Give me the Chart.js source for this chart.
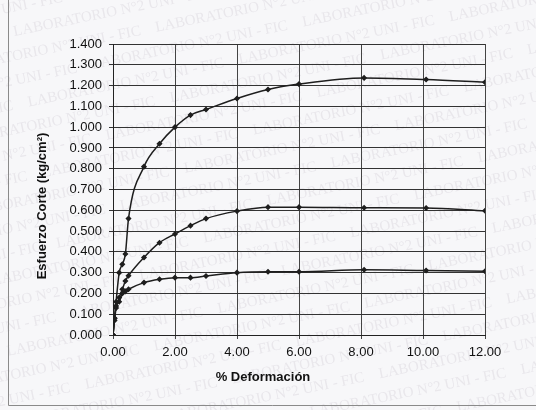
<!DOCTYPE html>
<html>
<head>
<meta charset="utf-8">
<script src="https://cdn.jsdelivr.net/npm/chart.js@4.4.1/dist/chart.umd.min.js"></script>
<style>
  html, body { margin: 0; padding: 0; background: #f7f7f9; }
  #wrap { width: 536px; height: 410px; position: relative; }
</style>
</head>
<body>
<div id="wrap"><canvas id="shearChart"></canvas></div>
<script>
// % deformacion (x) shared by the three tests
var deformacion = [0, 0.05, 0.1, 0.2, 0.3, 0.4, 0.5, 1.0, 1.5, 2.0, 2.5, 3.0, 4.0, 5.0, 6.0, 8.1, 10.1, 12.0];

// esfuerzo cortante kg/cm2
var esfuerzoAlto  = [0, 0.08, 0.16, 0.30, 0.34, 0.39, 0.56, 0.81, 0.92, 1.000, 1.058, 1.085, 1.138, 1.181, 1.207, 1.237, 1.229, 1.216];
var esfuerzoMedio = [0, 0.07, 0.13, 0.18, 0.22, 0.26, 0.285, 0.373, 0.444, 0.486, 0.526, 0.560, 0.596, 0.615, 0.615, 0.612, 0.611, 0.598];
var esfuerzoBajo  = [0, 0.08, 0.14, 0.16, 0.20, 0.21, 0.22, 0.252, 0.268, 0.276, 0.276, 0.284, 0.300, 0.304, 0.304, 0.314, 0.310, 0.307];

var xTitle = '% Deformación';
var yTitle = 'Esfuerzo Corte (kg/cm²)';
var marca = 'LABORATORIO N°2 UNI - FIC';

let toPoints = (ys) => deformacion.map((x, i) => ({ x: x, y: ys[i] }));

let serie = (ys) => ({
    data: toPoints(ys),
    borderColor: '#1e1e1e',
    backgroundColor: '#1e1e1e',
    borderWidth: 1.5,
    pointRadius: 2,
    pointStyle: 'rectRot',
    cubicInterpolationMode: 'monotone'
});

// paper background, watermark and frame
let paperPlugin = {
    id: 'paper',
    beforeDraw: (chart) => {
        let ctx = chart.ctx;
        ctx.save();
        ctx.fillStyle = '#f7f7f9';
        ctx.fillRect(0, 0, chart.width, chart.height);
        ctx.font = '15px "Liberation Serif"';
        ctx.fillStyle = 'rgba(140,120,150,0.13)';
        ctx.translate(chart.width / 2, chart.height / 2);
        ctx.rotate(-0.2);
        for (let r = -12; r <= 12; r++) {
            let off = (r % 3) * 70;
            for (let c = -4; c <= 4; c++) {
                ctx.fillText(marca, c * 215 - off, r * 24);
            }
        }
        ctx.restore();
        ctx.save();
        ctx.strokeStyle = '#8a8a8a';
        ctx.lineWidth = 1;
        ctx.beginPath();
        ctx.moveTo(8.5, 0);
        ctx.lineTo(8.5, 405.5);
        ctx.lineTo(536, 405.5);
        ctx.stroke();
        ctx.restore();
    },
    afterDraw: (chart) => {
        let ctx = chart.ctx;
        ctx.save();
        ctx.fillStyle = '#111';
        ctx.font = 'bold 13px "Liberation Sans"';
        ctx.textAlign = 'center';
        ctx.textBaseline = 'middle';
        ctx.fillText(xTitle, 263, 377);
        ctx.translate(42, 206);
        ctx.rotate(-Math.PI / 2);
        ctx.fillText(yTitle, 0, 0);
        ctx.restore();
    }
};

let ctx = document.getElementById('shearChart');
new Chart(ctx, {
    type: 'line',
    data: {
        datasets: [serie(esfuerzoAlto), serie(esfuerzoMedio), serie(esfuerzoBajo)]
    },
    options: {
        responsive: true,
        maintainAspectRatio: false,
        animation: false,
        layout: { padding: { top: 44, right: 51, left: 0, bottom: 0 } },
        plugins: {
            legend: { display: false },
            tooltip: { enabled: false }
        },
        scales: {
            x: {
                type: 'linear',
                min: 0,
                max: 12,
                afterFit: (scale) => { scale.height = 75; },
                ticks: {
                    stepSize: 2,
                    color: '#111',
                    padding: 6,
                    font: { family: 'Liberation Sans', size: 13 },
                    callback: (v) => v.toFixed(2)
                },
                grid: { color: '#444', lineWidth: 1, tickLength: 4 },
                border: { color: '#222', width: 1 }
            },
            y: {
                min: 0,
                max: 1.4,
                afterFit: (scale) => { scale.width = 113; },
                ticks: {
                    stepSize: 0.1,
                    color: '#111',
                    padding: 7,
                    font: { family: 'Liberation Sans', size: 13 },
                    callback: (v) => v.toFixed(3)
                },
                grid: { color: '#333', lineWidth: 1, tickLength: 4 },
                border: { color: '#222', width: 1 }
            }
        }
    },
    plugins: [paperPlugin]
});
</script>
</body>
</html>
